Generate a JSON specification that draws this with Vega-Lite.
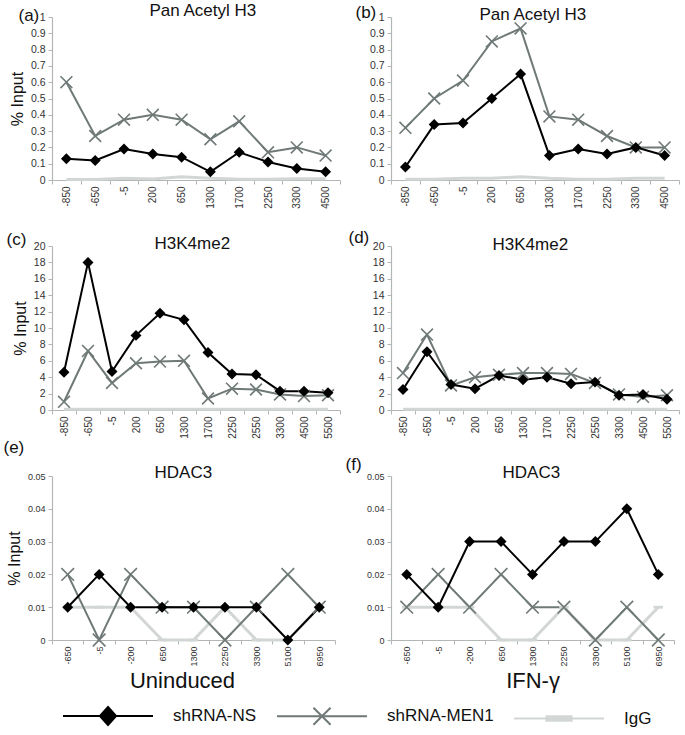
{
  "$schema": "https://vega.github.io/schema/vega-lite/v6.json",
  "padding": {"left": 3, "top": 1, "right": 5, "bottom": 5},
  "background": "white",
  "config": {
    "font": "Liberation Sans",
    "view": {"stroke": null},
    "axis": {"domainColor": "#b2b7b5", "tickColor": "#b2b7b5", "grid": false, "labelColor": "#333333", "titleFontWeight": "normal", "titleColor": "#111111", "tickSize": 4, "domainWidth": 1.2},
    "axisX": {"labelAngle": -90, "labelFontSize": 10, "tickBand": "extent", "labelPadding": 2, "title": null},
    "axisY": {"labelFontSize": 10.5, "titleFontSize": 16, "titlePadding": 5, "labelPadding": 3}
  },
  "datasets": {
    "d": [
      {"p": "a", "i": 0, "x": "-850", "shRNA-NS": 0.13, "shRNA-MEN1": 0.60, "IgG": 0.003},
      {"p": "a", "i": 1, "x": "-650", "shRNA-NS": 0.12, "shRNA-MEN1": 0.27, "IgG": 0.003},
      {"p": "a", "i": 2, "x": "-5", "shRNA-NS": 0.19, "shRNA-MEN1": 0.37, "IgG": 0.01},
      {"p": "a", "i": 3, "x": "200", "shRNA-NS": 0.16, "shRNA-MEN1": 0.40, "IgG": 0.006},
      {"p": "a", "i": 4, "x": "650", "shRNA-NS": 0.14, "shRNA-MEN1": 0.37, "IgG": 0.02},
      {"p": "a", "i": 5, "x": "1300", "shRNA-NS": 0.05, "shRNA-MEN1": 0.25, "IgG": 0.01},
      {"p": "a", "i": 6, "x": "1700", "shRNA-NS": 0.17, "shRNA-MEN1": 0.36, "IgG": 0.005},
      {"p": "a", "i": 7, "x": "2250", "shRNA-NS": 0.11, "shRNA-MEN1": 0.17, "IgG": 0.005},
      {"p": "a", "i": 8, "x": "3300", "shRNA-NS": 0.07, "shRNA-MEN1": 0.20, "IgG": 0.008},
      {"p": "a", "i": 9, "x": "4500", "shRNA-NS": 0.05, "shRNA-MEN1": 0.15, "IgG": 0.008},
      {"p": "b", "i": 0, "x": "-850", "shRNA-NS": 0.08, "shRNA-MEN1": 0.32, "IgG": 0.004},
      {"p": "b", "i": 1, "x": "-650", "shRNA-NS": 0.34, "shRNA-MEN1": 0.50, "IgG": 0.004},
      {"p": "b", "i": 2, "x": "-5", "shRNA-NS": 0.35, "shRNA-MEN1": 0.61, "IgG": 0.01},
      {"p": "b", "i": 3, "x": "200", "shRNA-NS": 0.50, "shRNA-MEN1": 0.85, "IgG": 0.01},
      {"p": "b", "i": 4, "x": "650", "shRNA-NS": 0.65, "shRNA-MEN1": 0.93, "IgG": 0.02},
      {"p": "b", "i": 5, "x": "1300", "shRNA-NS": 0.15, "shRNA-MEN1": 0.39, "IgG": 0.01},
      {"p": "b", "i": 6, "x": "1700", "shRNA-NS": 0.19, "shRNA-MEN1": 0.37, "IgG": 0.005},
      {"p": "b", "i": 7, "x": "2250", "shRNA-NS": 0.16, "shRNA-MEN1": 0.27, "IgG": 0.005},
      {"p": "b", "i": 8, "x": "3300", "shRNA-NS": 0.20, "shRNA-MEN1": 0.20, "IgG": 0.01},
      {"p": "b", "i": 9, "x": "4500", "shRNA-NS": 0.15, "shRNA-MEN1": 0.20, "IgG": 0.01},
      {"p": "c", "i": 0, "x": "-850", "shRNA-NS": 4.6, "shRNA-MEN1": 1.0, "IgG": 0.1},
      {"p": "c", "i": 1, "x": "-650", "shRNA-NS": 18.0, "shRNA-MEN1": 7.2, "IgG": 0.1},
      {"p": "c", "i": 2, "x": "-5", "shRNA-NS": 4.7, "shRNA-MEN1": 3.3, "IgG": 0.1},
      {"p": "c", "i": 3, "x": "200", "shRNA-NS": 9.1, "shRNA-MEN1": 5.7, "IgG": 0.1},
      {"p": "c", "i": 4, "x": "650", "shRNA-NS": 11.8, "shRNA-MEN1": 5.9, "IgG": 0.1},
      {"p": "c", "i": 5, "x": "1300", "shRNA-NS": 11.0, "shRNA-MEN1": 6.0, "IgG": 0.1},
      {"p": "c", "i": 6, "x": "1700", "shRNA-NS": 7.0, "shRNA-MEN1": 1.4, "IgG": 0.1},
      {"p": "c", "i": 7, "x": "2250", "shRNA-NS": 4.4, "shRNA-MEN1": 2.6, "IgG": 0.1},
      {"p": "c", "i": 8, "x": "2550", "shRNA-NS": 4.3, "shRNA-MEN1": 2.5, "IgG": 0.1},
      {"p": "c", "i": 9, "x": "3300", "shRNA-NS": 2.3, "shRNA-MEN1": 1.9, "IgG": 0.1},
      {"p": "c", "i": 10, "x": "4500", "shRNA-NS": 2.3, "shRNA-MEN1": 1.7, "IgG": 0.1},
      {"p": "c", "i": 11, "x": "5500", "shRNA-NS": 2.1, "shRNA-MEN1": 1.8, "IgG": 0.1},
      {"p": "d", "i": 0, "x": "-850", "shRNA-NS": 2.5, "shRNA-MEN1": 4.5, "IgG": 0.1},
      {"p": "d", "i": 1, "x": "-650", "shRNA-NS": 7.1, "shRNA-MEN1": 9.2, "IgG": 0.1},
      {"p": "d", "i": 2, "x": "-5", "shRNA-NS": 3.1, "shRNA-MEN1": 3.0, "IgG": 0.1},
      {"p": "d", "i": 3, "x": "200", "shRNA-NS": 2.6, "shRNA-MEN1": 4.0, "IgG": 0.1},
      {"p": "d", "i": 4, "x": "650", "shRNA-NS": 4.2, "shRNA-MEN1": 4.3, "IgG": 0.1},
      {"p": "d", "i": 5, "x": "1300", "shRNA-NS": 3.7, "shRNA-MEN1": 4.5, "IgG": 0.1},
      {"p": "d", "i": 6, "x": "1700", "shRNA-NS": 4.0, "shRNA-MEN1": 4.5, "IgG": 0.1},
      {"p": "d", "i": 7, "x": "2250", "shRNA-NS": 3.2, "shRNA-MEN1": 4.4, "IgG": 0.1},
      {"p": "d", "i": 8, "x": "2550", "shRNA-NS": 3.4, "shRNA-MEN1": 3.3, "IgG": 0.1},
      {"p": "d", "i": 9, "x": "3300", "shRNA-NS": 1.8, "shRNA-MEN1": 1.9, "IgG": 0.1},
      {"p": "d", "i": 10, "x": "4500", "shRNA-NS": 1.9, "shRNA-MEN1": 1.6, "IgG": 0.1},
      {"p": "d", "i": 11, "x": "5500", "shRNA-NS": 1.3, "shRNA-MEN1": 1.8, "IgG": 0.1},
      {"p": "e", "i": 0, "x": "-650", "shRNA-NS": 0.01, "shRNA-MEN1": 0.02, "IgG": 0.01},
      {"p": "e", "i": 1, "x": "-5", "shRNA-NS": 0.02, "shRNA-MEN1": 0.0, "IgG": 0.01},
      {"p": "e", "i": 2, "x": "-200", "shRNA-NS": 0.01, "shRNA-MEN1": 0.02, "IgG": 0.01},
      {"p": "e", "i": 3, "x": "650", "shRNA-NS": 0.01, "shRNA-MEN1": 0.01, "IgG": 0.0},
      {"p": "e", "i": 4, "x": "1300", "shRNA-NS": 0.01, "shRNA-MEN1": 0.01, "IgG": 0.0},
      {"p": "e", "i": 5, "x": "2250", "shRNA-NS": 0.01, "shRNA-MEN1": 0.0, "IgG": 0.01},
      {"p": "e", "i": 6, "x": "3300", "shRNA-NS": 0.01, "shRNA-MEN1": 0.01, "IgG": 0.0},
      {"p": "e", "i": 7, "x": "5100", "shRNA-NS": 0.0, "shRNA-MEN1": 0.02, "IgG": 0.0},
      {"p": "e", "i": 8, "x": "6950", "shRNA-NS": 0.01, "shRNA-MEN1": 0.01, "IgG": 0.01},
      {"p": "f", "i": 0, "x": "-650", "shRNA-NS": 0.02, "shRNA-MEN1": 0.01, "IgG": 0.01},
      {"p": "f", "i": 1, "x": "-5", "shRNA-NS": 0.01, "shRNA-MEN1": 0.02, "IgG": 0.01},
      {"p": "f", "i": 2, "x": "-200", "shRNA-NS": 0.03, "shRNA-MEN1": 0.01, "IgG": 0.01},
      {"p": "f", "i": 3, "x": "650", "shRNA-NS": 0.03, "shRNA-MEN1": 0.02, "IgG": 0.0},
      {"p": "f", "i": 4, "x": "1300", "shRNA-NS": 0.02, "shRNA-MEN1": 0.01, "IgG": 0.0},
      {"p": "f", "i": 5, "x": "2250", "shRNA-NS": 0.03, "shRNA-MEN1": 0.01, "IgG": 0.01},
      {"p": "f", "i": 6, "x": "3300", "shRNA-NS": 0.03, "shRNA-MEN1": 0.0, "IgG": 0.0},
      {"p": "f", "i": 7, "x": "5100", "shRNA-NS": 0.04, "shRNA-MEN1": 0.01, "IgG": 0.0},
      {"p": "f", "i": 8, "x": "6950", "shRNA-NS": 0.02, "shRNA-MEN1": 0.0, "IgG": 0.01}
    ]
  },
  "data": {"name": "d"},
  "bounds": "flush",
  "columns": 2,
  "spacing": {"row": 66, "column": 51},
  "concat": [
    {
      "width": 288, "height": 163,
      "transform": [{"filter": "datum.p === 'a'"}, {"fold": ["shRNA-NS", "shRNA-MEN1", "IgG"], "as": ["series", "value"]}],
      "resolve": {"axis": {"x": "independent", "y": "independent"}},
      "encoding": {
        "x": {"field": "x", "type": "ordinal", "sort": {"field": "i", "op": "min"}, "scale": {"type": "band", "paddingInner": 0, "paddingOuter": 0}, "bandPosition": 0.5, "axis": null},
        "y": {"field": "value", "type": "quantitative", "scale": {"domain": [0, 1], "nice": false}, "axis": null},
        "color": {"field": "series", "type": "nominal", "scale": {"domain": ["shRNA-NS", "shRNA-MEN1", "IgG"], "range": ["#000000", "#6f7977", "#d2d7d5"]},
          "legend": {"title": null, "orient": "none", "legendX": 10, "legendY": 653, "direction": "horizontal", "symbolSize": 8100, "symbolStrokeWidth": 2, "labelFontSize": 17, "labelColor": "#111111", "labelOffset": 19, "columnPadding": 16,
            "encode": {"symbols": {"update": {
              "shape": {"signal": "datum.value === 'shRNA-NS' ? 'M-1,0H1M0,-0.2L0.18,0L0,0.2L-0.18,0Z' : datum.value === 'shRNA-MEN1' ? 'M-1,0H1M-0.19,-0.19L0.19,0.19M0.19,-0.19L-0.19,0.19' : 'M-1,0H1M-0.28,-0.05H0.28V0.05H-0.28Z'"},
              "fill": {"signal": "datum.value === 'shRNA-NS' ? '#000000' : datum.value === 'IgG' ? '#cfd5d3' : 'transparent'"},
              "stroke": {"signal": "datum.value === 'shRNA-NS' ? '#000000' : datum.value === 'IgG' ? '#d6dbd9' : '#6f7977'"},
              "strokeWidth": {"value": 2}, "opacity": {"value": 1}}}}}},
        "order": {"field": "i"}
      },
      "layer": [
        {"transform": [{"filter": "datum.series === 'IgG'"}], "mark": {"type": "line", "strokeWidth": 3},
          "encoding": {
            "x": {"field": "x", "type": "ordinal", "sort": {"field": "i", "op": "min"}, "scale": {"type": "band", "paddingInner": 0, "paddingOuter": 0}, "bandPosition": 0.5, "axis": {"orient": "bottom"}},
            "y": {"field": "value", "type": "quantitative", "scale": {"domain": [0, 1], "nice": false}, "axis": {"orient": "left", "values": [0, 0.1, 0.2, 0.3, 0.4, 0.5, 0.6, 0.7, 0.8, 0.9, 1], "format": "~g", "title": "% Input"}}}},
        {"transform": [{"filter": "datum.series === 'shRNA-MEN1'"}], "mark": {"type": "line", "strokeWidth": 2}},
        {"transform": [{"filter": "datum.series === 'shRNA-NS'"}], "mark": {"type": "line", "strokeWidth": 2},
          "encoding": {"x": {"field": "x", "type": "ordinal", "sort": {"field": "i", "op": "min"}, "scale": {"type": "band", "paddingInner": 0, "paddingOuter": 0}, "bandPosition": 0.5,
            "axis": {"orient": "top", "title": "Pan Acetyl H3", "labels": false, "ticks": false, "domain": false, "titleX": 97, "titleY": -2, "titleAlign": "left", "titleBaseline": "alphabetic", "titleFontSize": 17}}}},
        {"transform": [{"filter": "datum.series === 'shRNA-MEN1'"}], "mark": {"type": "point", "shape": "M-1,-1L1,1M1,-1L-1,1", "filled": false, "size": 140, "strokeWidth": 1.6, "opacity": 1}},
        {"transform": [{"filter": "datum.series === 'shRNA-NS'"}], "mark": {"type": "point", "shape": "diamond", "filled": true, "size": 120, "opacity": 1},
          "encoding": {"y": {"field": "value", "type": "quantitative", "scale": {"domain": [0, 1], "nice": false}, "axis": {"orient": "left", "title": "(a)", "labels": false, "ticks": false, "domain": false, "titleAngle": 0, "titleX": -34, "titleY": 3, "titleAlign": "left", "titleBaseline": "alphabetic", "titleFontSize": 17}}}}
      ]
    },
    {
      "width": 288, "height": 163,
      "transform": [{"filter": "datum.p === 'b'"}, {"fold": ["shRNA-NS", "shRNA-MEN1", "IgG"], "as": ["series", "value"]}],
      "resolve": {"axis": {"x": "independent", "y": "independent"}},
      "encoding": {
        "x": {"field": "x", "type": "ordinal", "sort": {"field": "i", "op": "min"}, "scale": {"type": "band", "paddingInner": 0, "paddingOuter": 0}, "bandPosition": 0.5, "axis": null},
        "y": {"field": "value", "type": "quantitative", "scale": {"domain": [0, 1], "nice": false}, "axis": null},
        "color": {"field": "series", "type": "nominal", "scale": {"domain": ["shRNA-NS", "shRNA-MEN1", "IgG"], "range": ["#000000", "#6f7977", "#d2d7d5"]},
          "legend": {"title": null, "orient": "none", "legendX": 10, "legendY": 653, "direction": "horizontal", "symbolSize": 8100, "symbolStrokeWidth": 2, "labelFontSize": 17, "labelColor": "#111111", "labelOffset": 19, "columnPadding": 16,
            "encode": {"symbols": {"update": {
              "shape": {"signal": "datum.value === 'shRNA-NS' ? 'M-1,0H1M0,-0.2L0.18,0L0,0.2L-0.18,0Z' : datum.value === 'shRNA-MEN1' ? 'M-1,0H1M-0.19,-0.19L0.19,0.19M0.19,-0.19L-0.19,0.19' : 'M-1,0H1M-0.28,-0.05H0.28V0.05H-0.28Z'"},
              "fill": {"signal": "datum.value === 'shRNA-NS' ? '#000000' : datum.value === 'IgG' ? '#cfd5d3' : 'transparent'"},
              "stroke": {"signal": "datum.value === 'shRNA-NS' ? '#000000' : datum.value === 'IgG' ? '#d6dbd9' : '#6f7977'"},
              "strokeWidth": {"value": 2}, "opacity": {"value": 1}}}}}},
        "order": {"field": "i"}
      },
      "layer": [
        {"transform": [{"filter": "datum.series === 'IgG'"}], "mark": {"type": "line", "strokeWidth": 3},
          "encoding": {
            "x": {"field": "x", "type": "ordinal", "sort": {"field": "i", "op": "min"}, "scale": {"type": "band", "paddingInner": 0, "paddingOuter": 0}, "bandPosition": 0.5, "axis": {"orient": "bottom"}},
            "y": {"field": "value", "type": "quantitative", "scale": {"domain": [0, 1], "nice": false}, "axis": {"orient": "left", "values": [0, 0.1, 0.2, 0.3, 0.4, 0.5, 0.6, 0.7, 0.8, 0.9, 1], "format": "~g", "title": null}}}},
        {"transform": [{"filter": "datum.series === 'shRNA-MEN1'"}], "mark": {"type": "line", "strokeWidth": 2}},
        {"transform": [{"filter": "datum.series === 'shRNA-NS'"}], "mark": {"type": "line", "strokeWidth": 2},
          "encoding": {"x": {"field": "x", "type": "ordinal", "sort": {"field": "i", "op": "min"}, "scale": {"type": "band", "paddingInner": 0, "paddingOuter": 0}, "bandPosition": 0.5,
            "axis": {"orient": "top", "title": "Pan Acetyl H3", "labels": false, "ticks": false, "domain": false, "titleX": 88, "titleY": 2, "titleAlign": "left", "titleBaseline": "alphabetic", "titleFontSize": 17}}}},
        {"transform": [{"filter": "datum.series === 'shRNA-MEN1'"}], "mark": {"type": "point", "shape": "M-1,-1L1,1M1,-1L-1,1", "filled": false, "size": 140, "strokeWidth": 1.6, "opacity": 1}},
        {"transform": [{"filter": "datum.series === 'shRNA-NS'"}], "mark": {"type": "point", "shape": "diamond", "filled": true, "size": 120, "opacity": 1},
          "encoding": {"y": {"field": "value", "type": "quantitative", "scale": {"domain": [0, 1], "nice": false}, "axis": {"orient": "left", "title": "(b)", "labels": false, "ticks": false, "domain": false, "titleAngle": 0, "titleX": -36, "titleY": 0, "titleAlign": "left", "titleBaseline": "alphabetic", "titleFontSize": 17}}}}
      ]
    },
    {
      "width": 288, "height": 164,
      "transform": [{"filter": "datum.p === 'c'"}, {"fold": ["shRNA-NS", "shRNA-MEN1", "IgG"], "as": ["series", "value"]}],
      "resolve": {"axis": {"x": "independent", "y": "independent"}},
      "encoding": {
        "x": {"field": "x", "type": "ordinal", "sort": {"field": "i", "op": "min"}, "scale": {"type": "band", "paddingInner": 0, "paddingOuter": 0}, "bandPosition": 0.5, "axis": null},
        "y": {"field": "value", "type": "quantitative", "scale": {"domain": [0, 20], "nice": false}, "axis": null},
        "color": {"field": "series", "type": "nominal", "scale": {"domain": ["shRNA-NS", "shRNA-MEN1", "IgG"], "range": ["#000000", "#6f7977", "#d2d7d5"]},
          "legend": {"title": null, "orient": "none", "legendX": 10, "legendY": 653, "direction": "horizontal", "symbolSize": 8100, "symbolStrokeWidth": 2, "labelFontSize": 17, "labelColor": "#111111", "labelOffset": 19, "columnPadding": 16,
            "encode": {"symbols": {"update": {
              "shape": {"signal": "datum.value === 'shRNA-NS' ? 'M-1,0H1M0,-0.2L0.18,0L0,0.2L-0.18,0Z' : datum.value === 'shRNA-MEN1' ? 'M-1,0H1M-0.19,-0.19L0.19,0.19M0.19,-0.19L-0.19,0.19' : 'M-1,0H1M-0.28,-0.05H0.28V0.05H-0.28Z'"},
              "fill": {"signal": "datum.value === 'shRNA-NS' ? '#000000' : datum.value === 'IgG' ? '#cfd5d3' : 'transparent'"},
              "stroke": {"signal": "datum.value === 'shRNA-NS' ? '#000000' : datum.value === 'IgG' ? '#d6dbd9' : '#6f7977'"},
              "strokeWidth": {"value": 2}, "opacity": {"value": 1}}}}}},
        "order": {"field": "i"}
      },
      "layer": [
        {"transform": [{"filter": "datum.series === 'IgG'"}], "mark": {"type": "line", "strokeWidth": 3},
          "encoding": {
            "x": {"field": "x", "type": "ordinal", "sort": {"field": "i", "op": "min"}, "scale": {"type": "band", "paddingInner": 0, "paddingOuter": 0}, "bandPosition": 0.5, "axis": {"orient": "bottom"}},
            "y": {"field": "value", "type": "quantitative", "scale": {"domain": [0, 20], "nice": false}, "axis": {"orient": "left", "values": [0, 2, 4, 6, 8, 10, 12, 14, 16, 18, 20], "title": "% Input"}}}},
        {"transform": [{"filter": "datum.series === 'shRNA-MEN1'"}], "mark": {"type": "line", "strokeWidth": 2}},
        {"transform": [{"filter": "datum.series === 'shRNA-NS'"}], "mark": {"type": "line", "strokeWidth": 2},
          "encoding": {"x": {"field": "x", "type": "ordinal", "sort": {"field": "i", "op": "min"}, "scale": {"type": "band", "paddingInner": 0, "paddingOuter": 0}, "bandPosition": 0.5,
            "axis": {"orient": "top", "title": "H3K4me2", "labels": false, "ticks": false, "domain": false, "titleX": 102, "titleY": 2, "titleAlign": "left", "titleBaseline": "alphabetic", "titleFontSize": 17}}}},
        {"transform": [{"filter": "datum.series === 'shRNA-MEN1'"}], "mark": {"type": "point", "shape": "M-1,-1L1,1M1,-1L-1,1", "filled": false, "size": 140, "strokeWidth": 1.6, "opacity": 1}},
        {"transform": [{"filter": "datum.series === 'shRNA-NS'"}], "mark": {"type": "point", "shape": "diamond", "filled": true, "size": 120, "opacity": 1},
          "encoding": {"y": {"field": "value", "type": "quantitative", "scale": {"domain": [0, 20], "nice": false}, "axis": {"orient": "left", "title": "(c)", "labels": false, "ticks": false, "domain": false, "titleAngle": 0, "titleX": -46, "titleY": -2, "titleAlign": "left", "titleBaseline": "alphabetic", "titleFontSize": 17}}}}
      ]
    },
    {
      "width": 288, "height": 164,
      "transform": [{"filter": "datum.p === 'd'"}, {"fold": ["shRNA-NS", "shRNA-MEN1", "IgG"], "as": ["series", "value"]}],
      "resolve": {"axis": {"x": "independent", "y": "independent"}},
      "encoding": {
        "x": {"field": "x", "type": "ordinal", "sort": {"field": "i", "op": "min"}, "scale": {"type": "band", "paddingInner": 0, "paddingOuter": 0}, "bandPosition": 0.5, "axis": null},
        "y": {"field": "value", "type": "quantitative", "scale": {"domain": [0, 20], "nice": false}, "axis": null},
        "color": {"field": "series", "type": "nominal", "scale": {"domain": ["shRNA-NS", "shRNA-MEN1", "IgG"], "range": ["#000000", "#6f7977", "#d2d7d5"]},
          "legend": {"title": null, "orient": "none", "legendX": 10, "legendY": 653, "direction": "horizontal", "symbolSize": 8100, "symbolStrokeWidth": 2, "labelFontSize": 17, "labelColor": "#111111", "labelOffset": 19, "columnPadding": 16,
            "encode": {"symbols": {"update": {
              "shape": {"signal": "datum.value === 'shRNA-NS' ? 'M-1,0H1M0,-0.2L0.18,0L0,0.2L-0.18,0Z' : datum.value === 'shRNA-MEN1' ? 'M-1,0H1M-0.19,-0.19L0.19,0.19M0.19,-0.19L-0.19,0.19' : 'M-1,0H1M-0.28,-0.05H0.28V0.05H-0.28Z'"},
              "fill": {"signal": "datum.value === 'shRNA-NS' ? '#000000' : datum.value === 'IgG' ? '#cfd5d3' : 'transparent'"},
              "stroke": {"signal": "datum.value === 'shRNA-NS' ? '#000000' : datum.value === 'IgG' ? '#d6dbd9' : '#6f7977'"},
              "strokeWidth": {"value": 2}, "opacity": {"value": 1}}}}}},
        "order": {"field": "i"}
      },
      "layer": [
        {"transform": [{"filter": "datum.series === 'IgG'"}], "mark": {"type": "line", "strokeWidth": 3},
          "encoding": {
            "x": {"field": "x", "type": "ordinal", "sort": {"field": "i", "op": "min"}, "scale": {"type": "band", "paddingInner": 0, "paddingOuter": 0}, "bandPosition": 0.5, "axis": {"orient": "bottom"}},
            "y": {"field": "value", "type": "quantitative", "scale": {"domain": [0, 20], "nice": false}, "axis": {"orient": "left", "values": [0, 2, 4, 6, 8, 10, 12, 14, 16, 18, 20], "title": null}}}},
        {"transform": [{"filter": "datum.series === 'shRNA-MEN1'"}], "mark": {"type": "line", "strokeWidth": 2}},
        {"transform": [{"filter": "datum.series === 'shRNA-NS'"}], "mark": {"type": "line", "strokeWidth": 2},
          "encoding": {"x": {"field": "x", "type": "ordinal", "sort": {"field": "i", "op": "min"}, "scale": {"type": "band", "paddingInner": 0, "paddingOuter": 0}, "bandPosition": 0.5,
            "axis": {"orient": "top", "title": "H3K4me2", "labels": false, "ticks": false, "domain": false, "titleX": 101, "titleY": 3, "titleAlign": "left", "titleBaseline": "alphabetic", "titleFontSize": 17}}}},
        {"transform": [{"filter": "datum.series === 'shRNA-MEN1'"}], "mark": {"type": "point", "shape": "M-1,-1L1,1M1,-1L-1,1", "filled": false, "size": 140, "strokeWidth": 1.6, "opacity": 1}},
        {"transform": [{"filter": "datum.series === 'shRNA-NS'"}], "mark": {"type": "point", "shape": "diamond", "filled": true, "size": 120, "opacity": 1},
          "encoding": {"y": {"field": "value", "type": "quantitative", "scale": {"domain": [0, 20], "nice": false}, "axis": {"orient": "left", "title": "(d)", "labels": false, "ticks": false, "domain": false, "titleAngle": 0, "titleX": -43, "titleY": -4, "titleAlign": "left", "titleBaseline": "alphabetic", "titleFontSize": 17}}}}
      ]
    },
    {
      "width": 283, "height": 164,
      "transform": [{"filter": "datum.p === 'e'"}, {"fold": ["shRNA-NS", "shRNA-MEN1", "IgG"], "as": ["series", "value"]}],
      "resolve": {"axis": {"x": "independent", "y": "independent"}},
      "encoding": {
        "x": {"field": "x", "type": "ordinal", "sort": {"field": "i", "op": "min"}, "scale": {"type": "band", "paddingInner": 0, "paddingOuter": 0}, "bandPosition": 0.5, "axis": null},
        "y": {"field": "value", "type": "quantitative", "scale": {"domain": [0, 0.05], "nice": false}, "axis": null},
        "color": {"field": "series", "type": "nominal", "scale": {"domain": ["shRNA-NS", "shRNA-MEN1", "IgG"], "range": ["#000000", "#6f7977", "#d2d7d5"]},
          "legend": {"title": null, "orient": "none", "legendX": 10, "legendY": 653, "direction": "horizontal", "symbolSize": 8100, "symbolStrokeWidth": 2, "labelFontSize": 17, "labelColor": "#111111", "labelOffset": 19, "columnPadding": 16,
            "encode": {"symbols": {"update": {
              "shape": {"signal": "datum.value === 'shRNA-NS' ? 'M-1,0H1M0,-0.2L0.18,0L0,0.2L-0.18,0Z' : datum.value === 'shRNA-MEN1' ? 'M-1,0H1M-0.19,-0.19L0.19,0.19M0.19,-0.19L-0.19,0.19' : 'M-1,0H1M-0.28,-0.05H0.28V0.05H-0.28Z'"},
              "fill": {"signal": "datum.value === 'shRNA-NS' ? '#000000' : datum.value === 'IgG' ? '#cfd5d3' : 'transparent'"},
              "stroke": {"signal": "datum.value === 'shRNA-NS' ? '#000000' : datum.value === 'IgG' ? '#d6dbd9' : '#6f7977'"},
              "strokeWidth": {"value": 2}, "opacity": {"value": 1}}}}}},
        "order": {"field": "i"}
      },
      "layer": [
        {"transform": [{"filter": "datum.series === 'IgG'"}], "mark": {"type": "line", "strokeWidth": 3},
          "encoding": {
            "x": {"field": "x", "type": "ordinal", "sort": {"field": "i", "op": "min"}, "scale": {"type": "band", "paddingInner": 0, "paddingOuter": 0}, "bandPosition": 0.5, "axis": {"orient": "bottom", "labelFontSize": 9, "title": "Uninduced", "titleFontSize": 22, "titlePadding": 4, "titleX": 130}},
            "y": {"field": "value", "type": "quantitative", "scale": {"domain": [0, 0.05], "nice": false}, "axis": {"orient": "left", "values": [0, 0.01, 0.02, 0.03, 0.04, 0.05], "format": "~g", "labelFontSize": 9, "title": "% Input"}}}},
        {"transform": [{"filter": "datum.series === 'shRNA-MEN1'"}], "mark": {"type": "line", "strokeWidth": 2, "color": "#8b9492"}},
        {"transform": [{"filter": "datum.series === 'shRNA-NS'"}], "mark": {"type": "line", "strokeWidth": 2},
          "encoding": {"x": {"field": "x", "type": "ordinal", "sort": {"field": "i", "op": "min"}, "scale": {"type": "band", "paddingInner": 0, "paddingOuter": 0}, "bandPosition": 0.5,
            "axis": {"orient": "top", "title": "HDAC3", "labels": false, "ticks": false, "domain": false, "titleX": 102, "titleY": 1, "titleAlign": "left", "titleBaseline": "alphabetic", "titleFontSize": 17}}}},
        {"transform": [{"filter": "datum.series === 'IgG'"}], "mark": {"type": "point", "shape": "M-1,-0.3H1V0.3H-1Z", "filled": true, "size": 90, "opacity": 1}},
        {"transform": [{"filter": "datum.series === 'shRNA-MEN1'"}], "mark": {"type": "point", "shape": "M-1,-1L1,1M1,-1L-1,1", "filled": false, "size": 160, "strokeWidth": 1.6, "opacity": 1, "color": "#8b9492"}},
        {"transform": [{"filter": "datum.series === 'shRNA-NS'"}], "mark": {"type": "point", "shape": "diamond", "filled": true, "size": 120, "opacity": 1},
          "encoding": {"y": {"field": "value", "type": "quantitative", "scale": {"domain": [0, 0.05], "nice": false}, "axis": {"orient": "left", "title": "(e)", "labels": false, "ticks": false, "domain": false, "titleAngle": 0, "titleX": -49, "titleY": -24, "titleAlign": "left", "titleBaseline": "alphabetic", "titleFontSize": 17}}}}
      ]
    },
    {
      "width": 283, "height": 164,
      "transform": [{"filter": "datum.p === 'f'"}, {"fold": ["shRNA-NS", "shRNA-MEN1", "IgG"], "as": ["series", "value"]}],
      "resolve": {"axis": {"x": "independent", "y": "independent"}},
      "encoding": {
        "x": {"field": "x", "type": "ordinal", "sort": {"field": "i", "op": "min"}, "scale": {"type": "band", "paddingInner": 0, "paddingOuter": 0}, "bandPosition": 0.5, "axis": null},
        "y": {"field": "value", "type": "quantitative", "scale": {"domain": [0, 0.05], "nice": false}, "axis": null},
        "color": {"field": "series", "type": "nominal", "scale": {"domain": ["shRNA-NS", "shRNA-MEN1", "IgG"], "range": ["#000000", "#6f7977", "#d2d7d5"]},
          "legend": {"title": null, "orient": "none", "legendX": 10, "legendY": 653, "direction": "horizontal", "symbolSize": 8100, "symbolStrokeWidth": 2, "labelFontSize": 17, "labelColor": "#111111", "labelOffset": 19, "columnPadding": 16,
            "encode": {"symbols": {"update": {
              "shape": {"signal": "datum.value === 'shRNA-NS' ? 'M-1,0H1M0,-0.2L0.18,0L0,0.2L-0.18,0Z' : datum.value === 'shRNA-MEN1' ? 'M-1,0H1M-0.19,-0.19L0.19,0.19M0.19,-0.19L-0.19,0.19' : 'M-1,0H1M-0.28,-0.05H0.28V0.05H-0.28Z'"},
              "fill": {"signal": "datum.value === 'shRNA-NS' ? '#000000' : datum.value === 'IgG' ? '#cfd5d3' : 'transparent'"},
              "stroke": {"signal": "datum.value === 'shRNA-NS' ? '#000000' : datum.value === 'IgG' ? '#d6dbd9' : '#6f7977'"},
              "strokeWidth": {"value": 2}, "opacity": {"value": 1}}}}}},
        "order": {"field": "i"}
      },
      "layer": [
        {"transform": [{"filter": "datum.series === 'IgG'"}], "mark": {"type": "line", "strokeWidth": 3},
          "encoding": {
            "x": {"field": "x", "type": "ordinal", "sort": {"field": "i", "op": "min"}, "scale": {"type": "band", "paddingInner": 0, "paddingOuter": 0}, "bandPosition": 0.5, "axis": {"orient": "bottom", "labelFontSize": 9, "title": "IFN-γ", "titleFontSize": 22, "titlePadding": 4}},
            "y": {"field": "value", "type": "quantitative", "scale": {"domain": [0, 0.05], "nice": false}, "axis": {"orient": "left", "values": [0, 0.01, 0.02, 0.03, 0.04, 0.05], "format": "~g", "labelFontSize": 9, "title": null}}}},
        {"transform": [{"filter": "datum.series === 'shRNA-MEN1'"}], "mark": {"type": "line", "strokeWidth": 2, "color": "#8b9492"}},
        {"transform": [{"filter": "datum.series === 'shRNA-NS'"}], "mark": {"type": "line", "strokeWidth": 2},
          "encoding": {"x": {"field": "x", "type": "ordinal", "sort": {"field": "i", "op": "min"}, "scale": {"type": "band", "paddingInner": 0, "paddingOuter": 0}, "bandPosition": 0.5,
            "axis": {"orient": "top", "title": "HDAC3", "labels": false, "ticks": false, "domain": false, "titleX": 111, "titleY": 1, "titleAlign": "left", "titleBaseline": "alphabetic", "titleFontSize": 17}}}},
        {"transform": [{"filter": "datum.series === 'IgG'"}], "mark": {"type": "point", "shape": "M-1,-0.3H1V0.3H-1Z", "filled": true, "size": 90, "opacity": 1}},
        {"transform": [{"filter": "datum.series === 'shRNA-MEN1'"}], "mark": {"type": "point", "shape": "M-1,-1L1,1M1,-1L-1,1", "filled": false, "size": 160, "strokeWidth": 1.6, "opacity": 1, "color": "#8b9492"}},
        {"transform": [{"filter": "datum.series === 'shRNA-NS'"}], "mark": {"type": "point", "shape": "diamond", "filled": true, "size": 120, "opacity": 1},
          "encoding": {"y": {"field": "value", "type": "quantitative", "scale": {"domain": [0, 0.05], "nice": false}, "axis": {"orient": "left", "title": "(f)", "labels": false, "ticks": false, "domain": false, "titleAngle": 0, "titleX": -46, "titleY": -7, "titleAlign": "left", "titleBaseline": "alphabetic", "titleFontSize": 17}}}}
      ]
    }
  ]
}
